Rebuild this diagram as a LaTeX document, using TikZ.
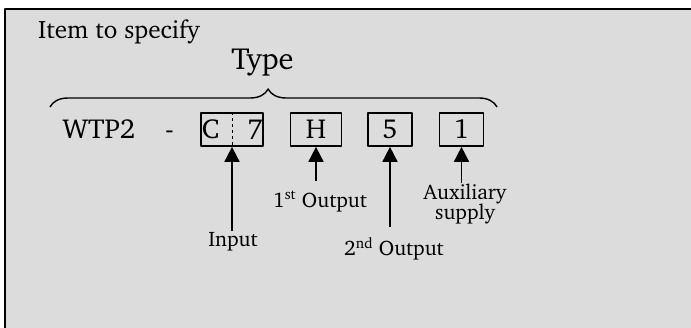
\documentclass[tikz,border=0pt]{standalone}
\usepackage[T1]{fontenc}
\usepackage{charter}
\usetikzlibrary{arrows.meta,decorations.pathreplacing}
\definecolor{panel}{HTML}{DCDCDC}
\newcommand{\fsz}[1]{\fontsize{#1}{#1}\selectfont}
\begin{document}
\begin{tikzpicture}[x=1pt, y=-1pt, line join=round, >={Triangle[width=15pt,length=15pt]},
  digit/.style={draw, line width=1.7pt, minimum height=33pt, inner sep=0pt},
  glyph/.style={inner sep=0pt, anchor=base, font=\fsz{27.5}},
  lbl/.style={inner sep=1pt, anchor=north, align=center, font=\fsz{21}},
  arr/.style={->, line width=1.7pt}]
	\useasboundingbox (0,0) rectangle (691,327);
	\clip (0,0) rectangle (691,327);
	\draw[fill=panel, line width=2pt] (5,9) rectangle (720,360);
	% headings
	\node[anchor=base west, inner sep=0pt, font=\fsz{25.2}] (item) at (38,38) {Item to specify};
	\node[anchor=base, inner sep=0pt, font=\fsz{30.5}] (type) at (262.5,69.5) {Type};
	\path
	(50,107) coordinate (braceL)
	(497,107) coordinate (braceR);
	\draw[line width=1.4pt, decorate, decoration={brace, amplitude=18pt, aspect=0.488}] (braceL) -- (braceR);
	% code
	\node[glyph, anchor=base west] (wtp) at (62.5,138.5) {WTP2};
	\node[glyph] (dash) at (169.5,138.5) {-};
	\node[digit, minimum width=62.5pt] (boxCS) at (232,129.5) {};
	\draw[dashed, line width=0.8pt] (boxCS.north) -- (boxCS.south);
	\node[glyph] (chC) at (210.5,138.5) {C};
	\node[glyph] (ch7) at (255,138.5) {7};
	\foreach \n/\t/\x/\w in {boxH/H/316/51, box5/5/390/44, box1/1/461.5/44}
	\node[digit, minimum width=\w pt, font=\fsz{27.5}] (\n) at (\x,129.5) {\t};
	% labels
	\node[lbl] (input) at (233,231) {Input};
	\node[lbl] (out1) at (320,190) {1\textsuperscript{st} Output};
	\node[lbl] (out2) at (394,236) {2\textsuperscript{nd} Output};
	\node[lbl, font=\fontsize{21}{20}\selectfont] (aux) at (465,183) {Auxiliary\\supply};
	\draw[arr] (input.north -| boxCS.south) -- (boxCS.south);
	\draw[arr, shorten <=9pt] (out1.north -| boxH.south) -- (boxH.south);
	\draw[arr, shorten <=9pt] (out2.north -| box5.south) -- (box5.south);
	\draw[arr] (aux.north -| box1.south) -- (box1.south);
\end{tikzpicture}
\end{document}
